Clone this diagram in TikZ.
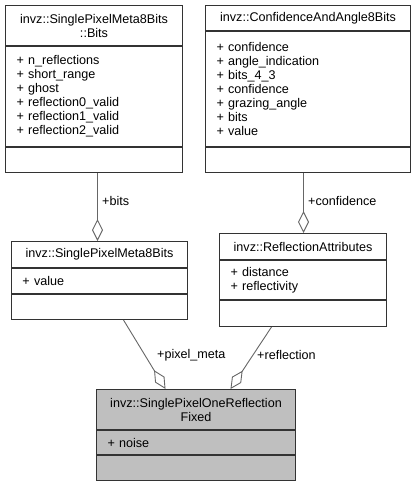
\documentclass[tikz,border=0pt]{standalone}
\usepackage{fontspec}
\setmainfont{Liberation Sans}
\usetikzlibrary{positioning,arrows.meta}
\newcommand\umlfont{\fontsize{12.6}{14}\selectfont}
\begin{document}
\begin{tikzpicture}[
  x=1pt,y=1pt,
  node distance=0pt,
  part/.style={rectangle,draw=black!80,line width=1pt,fill=white,inner xsep=11pt,inner ysep=2pt,font=\umlfont},
  ttl/.style={part,align=center},
  attr/.style={part,align=left},
  edge/.style={draw=black!60,line width=0.9pt,-{Diamond[open,length=22pt,width=11pt]}},
  lbl/.style={font=\umlfont,anchor=west,inner sep=1pt}
]
\useasboundingbox (0,0) rectangle (413,-485);

% Bits
\node[ttl,anchor=north west,text width=155pt,minimum height=40pt] (bitsT) at (5,-5) {invz::SinglePixelMeta8Bits\\::Bits};
\node[attr,below=of bitsT,text width=155pt,minimum height=100pt] (bitsA) {+ n\_reflections\\+ short\_range\\+ ghost\\+ reflection0\_valid\\+ reflection1\_valid\\+ reflection2\_valid};
\node[attr,below=of bitsA,text width=155pt,minimum height=25pt] (bitsM) {};

% ConfidenceAndAngle8Bits
\node[ttl,anchor=north west,text width=183pt,minimum height=25pt] (confT) at (205,-5) {invz::ConfidenceAndAngle8Bits};
\node[attr,below=of confT,text width=183pt,minimum height=115pt] (confA) {+ confidence\\+ angle\_indication\\+ bits\_4\_3\\+ confidence\\+ grazing\_angle\\+ bits\\+ value};
\node[attr,below=of confA,text width=183pt,minimum height=25pt] (confM) {};

% SinglePixelMeta8Bits
\node[ttl,anchor=north west,text width=154pt,minimum height=26pt] (metaT) at (11,-241) {invz::SinglePixelMeta8Bits};
\node[attr,below=of metaT,text width=154pt,minimum height=25pt] (metaA) {+ value};
\node[attr,below=of metaA,text width=154pt,minimum height=25pt] (metaM) {};

% ReflectionAttributes
\node[ttl,anchor=north west,text width=145pt,minimum height=26pt] (reflT) at (219,-233) {invz::ReflectionAttributes};
\node[attr,below=of reflT,text width=145pt,minimum height=39pt] (reflA) {+ distance\\+ reflectivity};
\node[attr,below=of reflA,text width=145pt,minimum height=26pt] (reflM) {};

% SinglePixelOneReflectionFixed
\node[ttl,anchor=north west,text width=177pt,minimum height=40pt,fill=black!25] (fixT) at (96,-389) {invz::SinglePixelOneReflection\\Fixed};
\node[attr,below=of fixT,text width=177pt,minimum height=24pt,fill=black!25] (fixA) {+ noise};
\node[attr,below=of fixA,text width=177pt,minimum height=25pt,fill=black!25] (fixM) {};

\draw[edge] ([xshift=3.5]bitsM.south) -- ([xshift=-2]metaT.north);
\draw[edge] ([xshift=-4.5]confM.south) -- ([xshift=0.5]reflT.north);
\draw[edge] ([xshift=24]metaM.south) -- ([xshift=-30.5]fixT.north);
\draw[edge] ([xshift=-31.5]reflM.south) -- ([xshift=34.5]fixT.north);

\node[lbl] (bitsL) at (101,-201) {+bits};
\node[lbl] (confL) at (307,-201) {+confidence};
\node[lbl] (metaL) at (156,-355) {+pixel\_meta};
\node[lbl] (reflL) at (256,-355) {+reflection};
\end{tikzpicture}
\end{document}
